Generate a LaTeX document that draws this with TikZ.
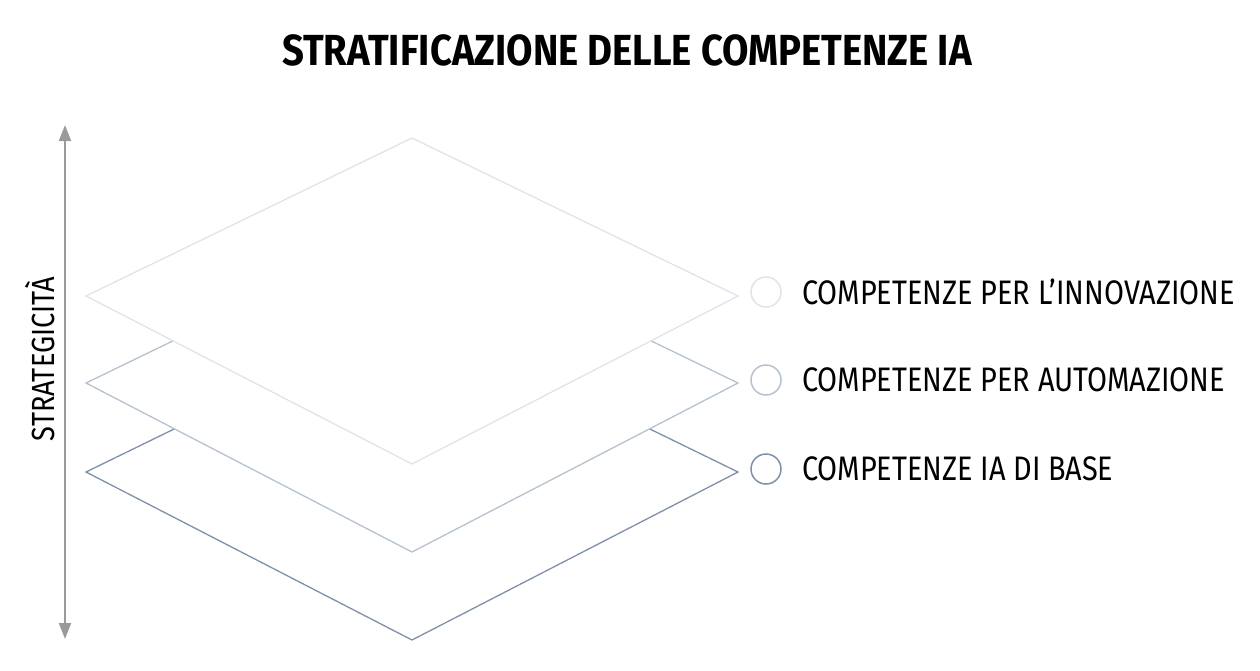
\documentclass[tikz,border=0pt]{standalone}
\usepackage{fontspec}
\setmainfont[FakeStretch=0.85]{Fira Sans}
\newfontfamily\titlefont[FakeStretch=0.88]{Fira Sans}
\usetikzlibrary{arrows.meta}
\definecolor{layerA}{HTML}{E0E4EA}
\definecolor{layerB}{HTML}{B6C2D0}
\definecolor{layerC}{HTML}{7F90A8}
\definecolor{axisgray}{HTML}{9A9A9A}

\begin{document}
\begin{tikzpicture}[x=1pt, y=-1pt,
        layer/.style={draw=#1, fill=white, line width=1.3pt, line join=miter},
        dot/.style={circle, draw=#1, fill=white, line width=1.5pt, minimum size=30pt, inner sep=0pt},
        lbl/.style={anchor=west, font=\fontsize{34}{38}\selectfont, inner sep=0pt}]
        \useasboundingbox (0,0) rectangle (1260,670);
        \node[font=\titlefont\fontsize{43.5}{48}\selectfont\bfseries] (title) at (627,50) {STRATIFICAZIONE DELLE COMPETENZE IA};
        % layers, bottom first
        \draw[layer=layerC] (86,472) -- (412,313) -- (738,472) -- (412,640) -- cycle;
        \draw[layer=layerB] (86,383) -- (412,225) -- (738,383) -- (412,552) -- cycle;
        \draw[layer=layerA] (86,296) -- (412,138) -- (738,296) -- (412,464) -- cycle;
        % axis
        \coordinate (top) at (65,125);
        \coordinate (bot) at (65,639);
        \draw[axisgray, line width=2pt, {Triangle[length=16pt,width=12pt]}-{Triangle[length=16pt,width=12pt]}] (top) -- (bot);
        \node[rotate=90, font=\fontsize{32}{36}\selectfont] (axis) at (40,359) {STRATEGICITÀ};
        % legend
        \node[dot=layerA] (d1) at (766,292) {};
        \node[dot=layerB] (d2) at (766,380) {};
        \node[dot=layerC] (d3) at (766,469) {};
        \node[lbl] (l1) at (802,292) {COMPETENZE PER L’INNOVAZIONE};
        \node[lbl] (l2) at (802,380) {COMPETENZE PER AUTOMAZIONE};
        \node[lbl] (l3) at (802,469) {COMPETENZE IA DI BASE};
    \end{tikzpicture}
\end{document}
